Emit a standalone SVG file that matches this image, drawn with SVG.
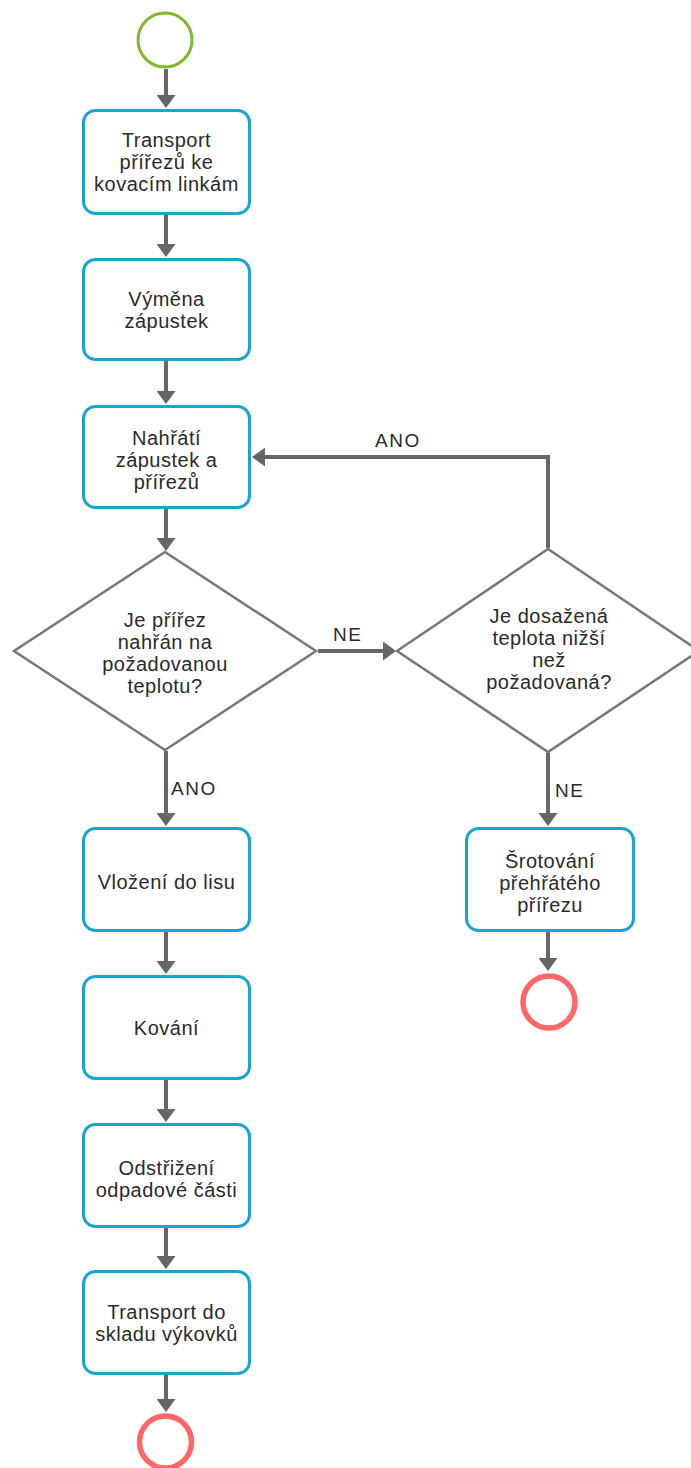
<svg xmlns="http://www.w3.org/2000/svg" width="691" height="1468" viewBox="0 0 691 1468">
<defs>
<marker id="ah" markerUnits="userSpaceOnUse" markerWidth="13" markerHeight="19" viewBox="0 0 13 19" refX="0" refY="9.5" orient="auto">
<path d="M0,0 L13,9.5 L0,19 Z" fill="#666"/>
</marker>
</defs>
<style>
.box{fill:#fff;stroke:#1ba3d3;stroke-width:3}
.dia{fill:#fff;stroke:#777;stroke-width:2.5}
.start{fill:#fff;stroke:#80b82e;stroke-width:3}
.end{fill:#fff;stroke:#ff6666;stroke-width:5.5}
.t{font-family:"Liberation Sans",Arial,sans-serif;font-size:20px;fill:#2a2a2a;text-anchor:middle;letter-spacing:0.5px}
.lbl{font-family:"Liberation Sans",Arial,sans-serif;font-size:19px;fill:#2a2a2a;letter-spacing:1.5px}
.c{fill:none;stroke:#666;stroke-width:4;marker-end:url(#ah)}
</style>
<rect width="691" height="1468" fill="#fff"/>
<g id="connectors">
<path class="c" d="M166,69 V95"/>
<path class="c" d="M166,214 V244"/>
<path class="c" d="M166,361 V391"/>
<path class="c" d="M166,509 V538"/>
<path class="c" d="M166,751 V813"/>
<path class="c" d="M166,932 V961"/>
<path class="c" d="M166,1080 V1109"/>
<path class="c" d="M166,1228 V1256"/>
<path class="c" d="M166,1375 V1399"/>
<path class="c" d="M318,651 H383"/>
<path class="c" d="M548,753 V813"/>
<path class="c" d="M548,932 V958"/>
<path class="c" d="M548,548 V457 H265"/>
<text class="lbl" x="375" y="447">ANO</text>
<text class="lbl" x="333" y="641">NE</text>
<text class="lbl" x="171" y="795">ANO</text>
<text class="lbl" x="555" y="797">NE</text>
</g>
<g id="start"><circle class="start" cx="165" cy="40" r="27"/></g>
<g id="n1"><rect class="box" x="83.5" y="110.5" width="166" height="103" rx="12"/>
<text class="t" x="166.5" y="147">Transport</text><text class="t" x="166.5" y="169">přířezů ke</text><text class="t" x="166.5" y="191">kovacím linkám</text></g>
<g id="n2"><rect class="box" x="83.5" y="259.5" width="166" height="100" rx="12"/>
<text class="t" x="166.5" y="306">Výměna</text><text class="t" x="166.5" y="328">zápustek</text></g>
<g id="n3"><rect class="box" x="83.5" y="406.5" width="166" height="101" rx="12"/>
<text class="t" x="166.5" y="445">Nahřátí</text><text class="t" x="166.5" y="467">zápustek a</text><text class="t" x="166.5" y="489">přířezů</text></g>
<g id="d1"><polygon class="dia" points="165,552 316,651 165,750 14,651"/>
<text class="t" x="165" y="627">Je přířez</text><text class="t" x="165" y="649">nahřán na</text><text class="t" x="165" y="671">požadovanou</text><text class="t" x="165" y="693">teplotu?</text></g>
<g id="d2"><polygon class="dia" points="548,549 699,651 548,752 397,651"/>
<text class="t" x="549" y="623">Je dosažená</text><text class="t" x="549" y="645">teplota nižší</text><text class="t" x="549" y="667">než</text><text class="t" x="549" y="689">požadovaná?</text></g>
<g id="n4"><rect class="box" x="83.5" y="828.5" width="166" height="102" rx="12"/>
<text class="t" x="166.5" y="889">Vložení do lisu</text></g>
<g id="n5"><rect class="box" x="83.5" y="976.5" width="166" height="102" rx="12"/>
<text class="t" x="166.5" y="1035">Kování</text></g>
<g id="n6"><rect class="box" x="83.5" y="1124.5" width="166" height="102" rx="12"/>
<text class="t" x="166.5" y="1175">Odstřižení</text><text class="t" x="166.5" y="1197">odpadové části</text></g>
<g id="n7"><rect class="box" x="83.5" y="1271.5" width="166" height="102" rx="12"/>
<text class="t" x="166.5" y="1319">Transport do</text><text class="t" x="166.5" y="1341">skladu výkovků</text></g>
<g id="n8"><rect class="box" x="466.5" y="828.5" width="167" height="102" rx="12"/>
<text class="t" x="550" y="868">Šrotování</text><text class="t" x="550" y="890">přehřátého</text><text class="t" x="550" y="912">přířezu</text></g>
<g id="end1"><circle class="end" cx="549" cy="1002" r="26"/></g>
<g id="end2"><circle class="end" cx="165.5" cy="1442" r="26"/></g>
</svg>
